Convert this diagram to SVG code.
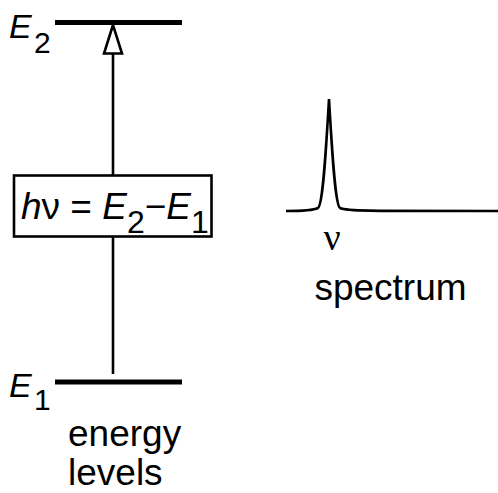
<svg xmlns="http://www.w3.org/2000/svg" width="498" height="493" viewBox="0 0 498 493">
<style>
text{font-family:"Liberation Sans",Arial,sans-serif;fill:#000}
.lvl{stroke:#000;stroke-width:5;fill:none}
.ln{stroke:#000;stroke-width:2.6;fill:none}
.it{font-style:italic}
.lab{font-size:34px}
.sub{font-size:30px}
.big{font-size:37px}
.bsub{font-size:32px}
</style>
<g id="level-E2">
<line class="lvl" x1="55" y1="22.5" x2="182" y2="22.5"/>
<text x="9" y="38" class="lab it">E</text>
<text x="34" y="53" class="sub">2</text>
</g>
<g id="level-E1">
<line class="lvl" x1="55" y1="382" x2="182" y2="382"/>
<text x="9" y="397" class="lab it">E</text>
<text x="34" y="410" class="sub">1</text>
<text x="68" y="446" class="big">energy</text>
<text x="68" y="485" class="big">levels</text>
</g>
<g id="connectors">
<line class="ln" x1="113" y1="54" x2="113" y2="175"/>
<line class="ln" x1="113" y1="237" x2="113" y2="374"/>
<polygon points="113,25 104,53.5 122,53.5" fill="#fff" stroke="#000" stroke-width="2.6" stroke-linejoin="miter"/>
</g>
<g id="transition">
<rect x="14" y="175.5" width="197.5" height="61" fill="#fff" stroke="#000" stroke-width="2.6"/>
<text x="21" y="219" class="big"><tspan class="it">h</tspan>ν = <tspan class="it">E</tspan><tspan class="bsub" dy="14">2</tspan><tspan dy="-14">−</tspan><tspan class="it">E</tspan><tspan class="bsub" dy="14">1</tspan></text>
</g>
<g id="spectrum">
<path class="ln" d="M286,211 C300,211 312,211 318,208 C323,205 326,150 329,99 C332,150 335,205 340,208 C346,211 360,211 498,211"/>
<text x="332" y="250" font-size="38" text-anchor="middle" style="font-family:'Liberation Serif','Times New Roman',serif">ν</text>
<text x="390.5" y="300" class="big" text-anchor="middle">spectrum</text>
</g>
</svg>
